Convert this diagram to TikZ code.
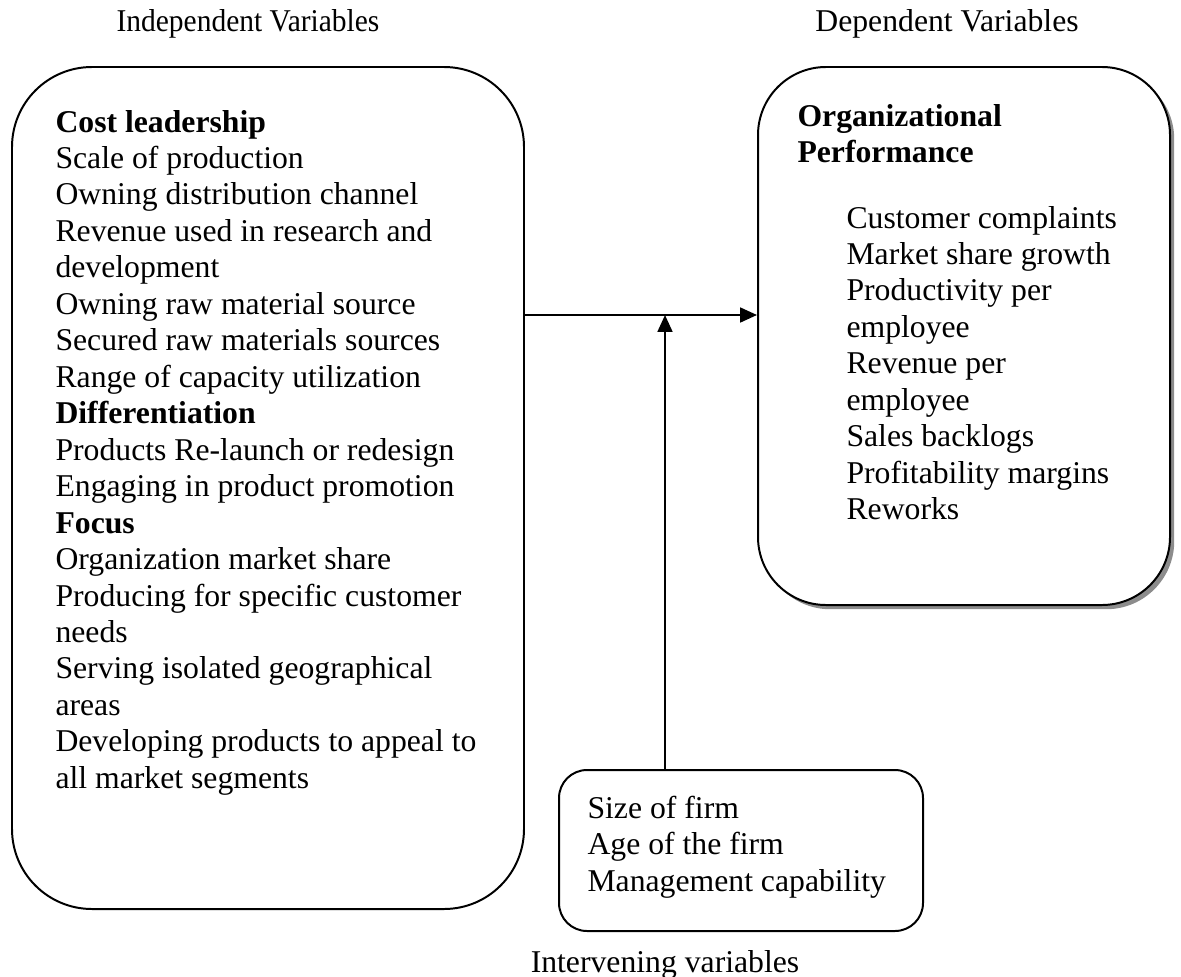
\documentclass[tikz,border=0pt]{standalone}
\usepackage{fontspec}
\setmainfont{Liberation Serif}
\usetikzlibrary{arrows.meta,shadows}
\def\px{0.3785pt}

\begin{document}
\begin{tikzpicture}[x=0.3785pt, y=-0.3785pt,
    >={Triangle[length=6.4pt,width=5.6pt]},
    font=\fontsize{12}{13.8}\selectfont,
    varbox/.style={draw, line width=0.75pt, fill=white, inner sep=0pt},
    txt/.style={anchor=north west, inner sep=0pt, align=left}]
    \useasboundingbox (0,0) rectangle (1181,976);

    % Headings
    \node[anchor=base, inner sep=0pt] (indephead) at (248,31) {\scalebox{0.93}[1]{Independent Variables}};
    \node[anchor=base, inner sep=0pt] (dephead) at (947,31) {Dependent Variables};

    % Independent variables box
    \node[varbox, rounded corners=80*\px, minimum width=512*\px, minimum height=842*\px] (indep) at (268,488) {};
    \node[txt] (indeptext) at (55,109.5) {\textbf{Cost leadership}\\
        Scale of production\\
        Owning distribution channel\\
        Revenue used in research and\\
        development\\
        Owning raw material source\\
        Secured raw materials sources\\
        Range of capacity utilization\\
        \textbf{Differentiation}\\
        Products Re-launch or redesign\\
        Engaging in product promotion\\
        \textbf{Focus}\\
        Organization market share\\
        Producing for specific customer\\
        needs\\
        Serving isolated geographical\\
        areas\\
        Developing products to appeal to\\
        all market segments};

    % Dependent variables box
    \node[varbox, rounded corners=68*\px, minimum width=412*\px, minimum height=538*\px,
        drop shadow={shadow xshift=1.6pt, shadow yshift=-1.6pt, fill=black!45, opacity=1}] (dep) at (964,336) {};
    \node[txt] (deptitle) at (797,103.5) {\textbf{Organizational}\\ \textbf{Performance}};
    \node[txt] (deptext) at (846,205.5) {Customer complaints\\
        Market share growth\\
        Productivity per\\
        employee\\
        Revenue per\\
        employee\\
        Sales backlogs\\
        Profitability margins\\
        Reworks};

    % Intervening variables box
    \node[varbox, rounded corners=28*\px, minimum width=364*\px, minimum height=161*\px] (interv) at (741,850.5) {};
    \node[txt] (intervtext) at (587,795.5) {Size of firm\\
        Age of the firm\\
        Management capability};
    \node[anchor=base, inner sep=0pt] (intervhead) at (665,972) {Intervening variables};

    % Arrows
    \coordinate (meet) at (665,315);
    \draw[->, line width=0.9pt] (indep.east |- meet) -- (dep.west |- meet);
    \draw[->, line width=0.9pt] (interv.north -| meet) -- (meet);
\end{tikzpicture}
\end{document}
